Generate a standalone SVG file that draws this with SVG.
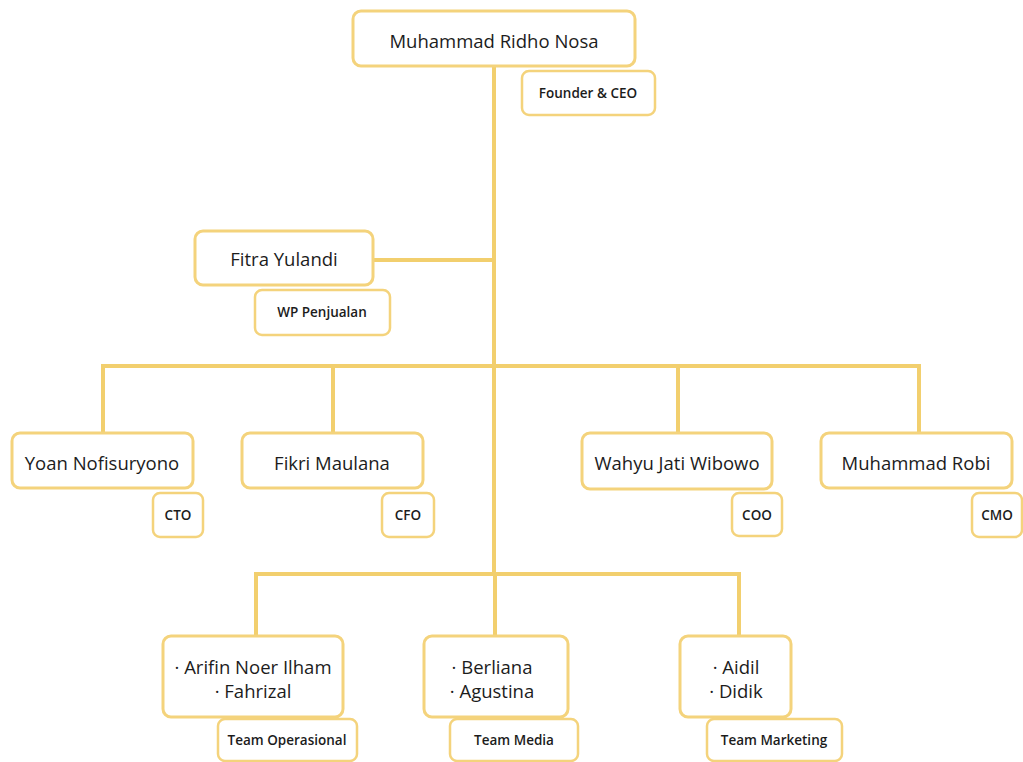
<svg xmlns="http://www.w3.org/2000/svg" width="1023" height="762" viewBox="0 0 1023 762">
<style>
.box{fill:#fff;stroke:#F4D37C;stroke-width:3}
.lbl{fill:#fff;stroke:#F4D37C;stroke-width:2.5}
.ln{fill:none;stroke:#F2CF6E;stroke-width:4}
.nm{font-family:"Open Sans","Liberation Sans",sans-serif;font-size:18.5px;font-weight:500;fill:#1c1c1c;text-anchor:middle}
.sm{font-family:"Open Sans","Liberation Sans",sans-serif;font-size:13.5px;font-weight:600;fill:#1c1c1c;text-anchor:middle}
</style>
<rect width="1023" height="762" fill="#fff"/>
<g id="connectors">
<path class="ln" d="M494 66 V575"/>
<path class="ln" d="M373 260 H494"/>
<path class="ln" d="M103 433 V366 H919 V433"/>
<path class="ln" d="M333 366 V433"/>
<path class="ln" d="M678 366 V433"/>
<path class="ln" d="M256 636 V574 H739 V636"/>
<path class="ln" d="M495 575 V636"/>
</g>
<g id="ceo">
<rect class="box" x="353" y="11" width="282" height="55" rx="8"/>
<text class="nm" x="494" y="48">Muhammad Ridho Nosa</text>
<rect class="lbl" x="522" y="71" width="133" height="44" rx="7"/>
<text class="sm" x="588" y="98">Founder &amp; CEO</text>
</g>
<g id="fitra">
<rect class="box" x="195" y="231" width="178" height="54" rx="8"/>
<text class="nm" x="284" y="266">Fitra Yulandi</text>
<rect class="lbl" x="255" y="290" width="135" height="45" rx="7"/>
<text class="sm" x="322" y="317">WP Penjualan</text>
</g>
<g id="yoan">
<rect class="box" x="12" y="433" width="181" height="55" rx="8"/>
<text class="nm" x="102" y="470">Yoan Nofisuryono</text>
<rect class="lbl" x="153" y="493" width="50" height="44" rx="7"/>
<text class="sm" x="178" y="520">CTO</text>
</g>
<g id="fikri">
<rect class="box" x="242" y="433" width="181" height="55" rx="8"/>
<text class="nm" x="332" y="470">Fikri Maulana</text>
<rect class="lbl" x="382" y="493" width="52" height="44" rx="7"/>
<text class="sm" x="408" y="520">CFO</text>
</g>
<g id="wahyu">
<rect class="box" x="582" y="433" width="190" height="56" rx="8"/>
<text class="nm" x="677" y="470">Wahyu Jati Wibowo</text>
<rect class="lbl" x="732" y="493" width="50" height="43" rx="7"/>
<text class="sm" x="757" y="520">COO</text>
</g>
<g id="robi">
<rect class="box" x="821" y="433" width="191" height="55" rx="8"/>
<text class="nm" x="916" y="470">Muhammad Robi</text>
<rect class="lbl" x="972" y="493" width="50" height="44" rx="7"/>
<text class="sm" x="997" y="520">CMO</text>
</g>
<g id="team-operasional">
<rect class="box" x="163" y="636" width="180" height="81" rx="8"/>
<text class="nm" x="253" y="674">·  Arifin Noer Ilham</text>
<text class="nm" x="253" y="698">·  Fahrizal</text>
<rect class="lbl" x="218" y="719" width="139" height="42" rx="7"/>
<text class="sm" x="287" y="745">Team Operasional</text>
</g>
<g id="team-media">
<rect class="box" x="424" y="636" width="144" height="81" rx="8"/>
<text class="nm" x="492" y="674">·  Berliana</text>
<text class="nm" x="492" y="698">·  Agustina</text>
<rect class="lbl" x="450" y="719" width="128" height="42" rx="7"/>
<text class="sm" x="514" y="745">Team Media</text>
</g>
<g id="team-marketing">
<rect class="box" x="680" y="636" width="111" height="81" rx="8"/>
<text class="nm" x="736" y="674">·  Aidil</text>
<text class="nm" x="736" y="698">·  Didik</text>
<rect class="lbl" x="707" y="719" width="135" height="42" rx="7"/>
<text class="sm" x="774" y="745">Team Marketing</text>
</g>
</svg>
